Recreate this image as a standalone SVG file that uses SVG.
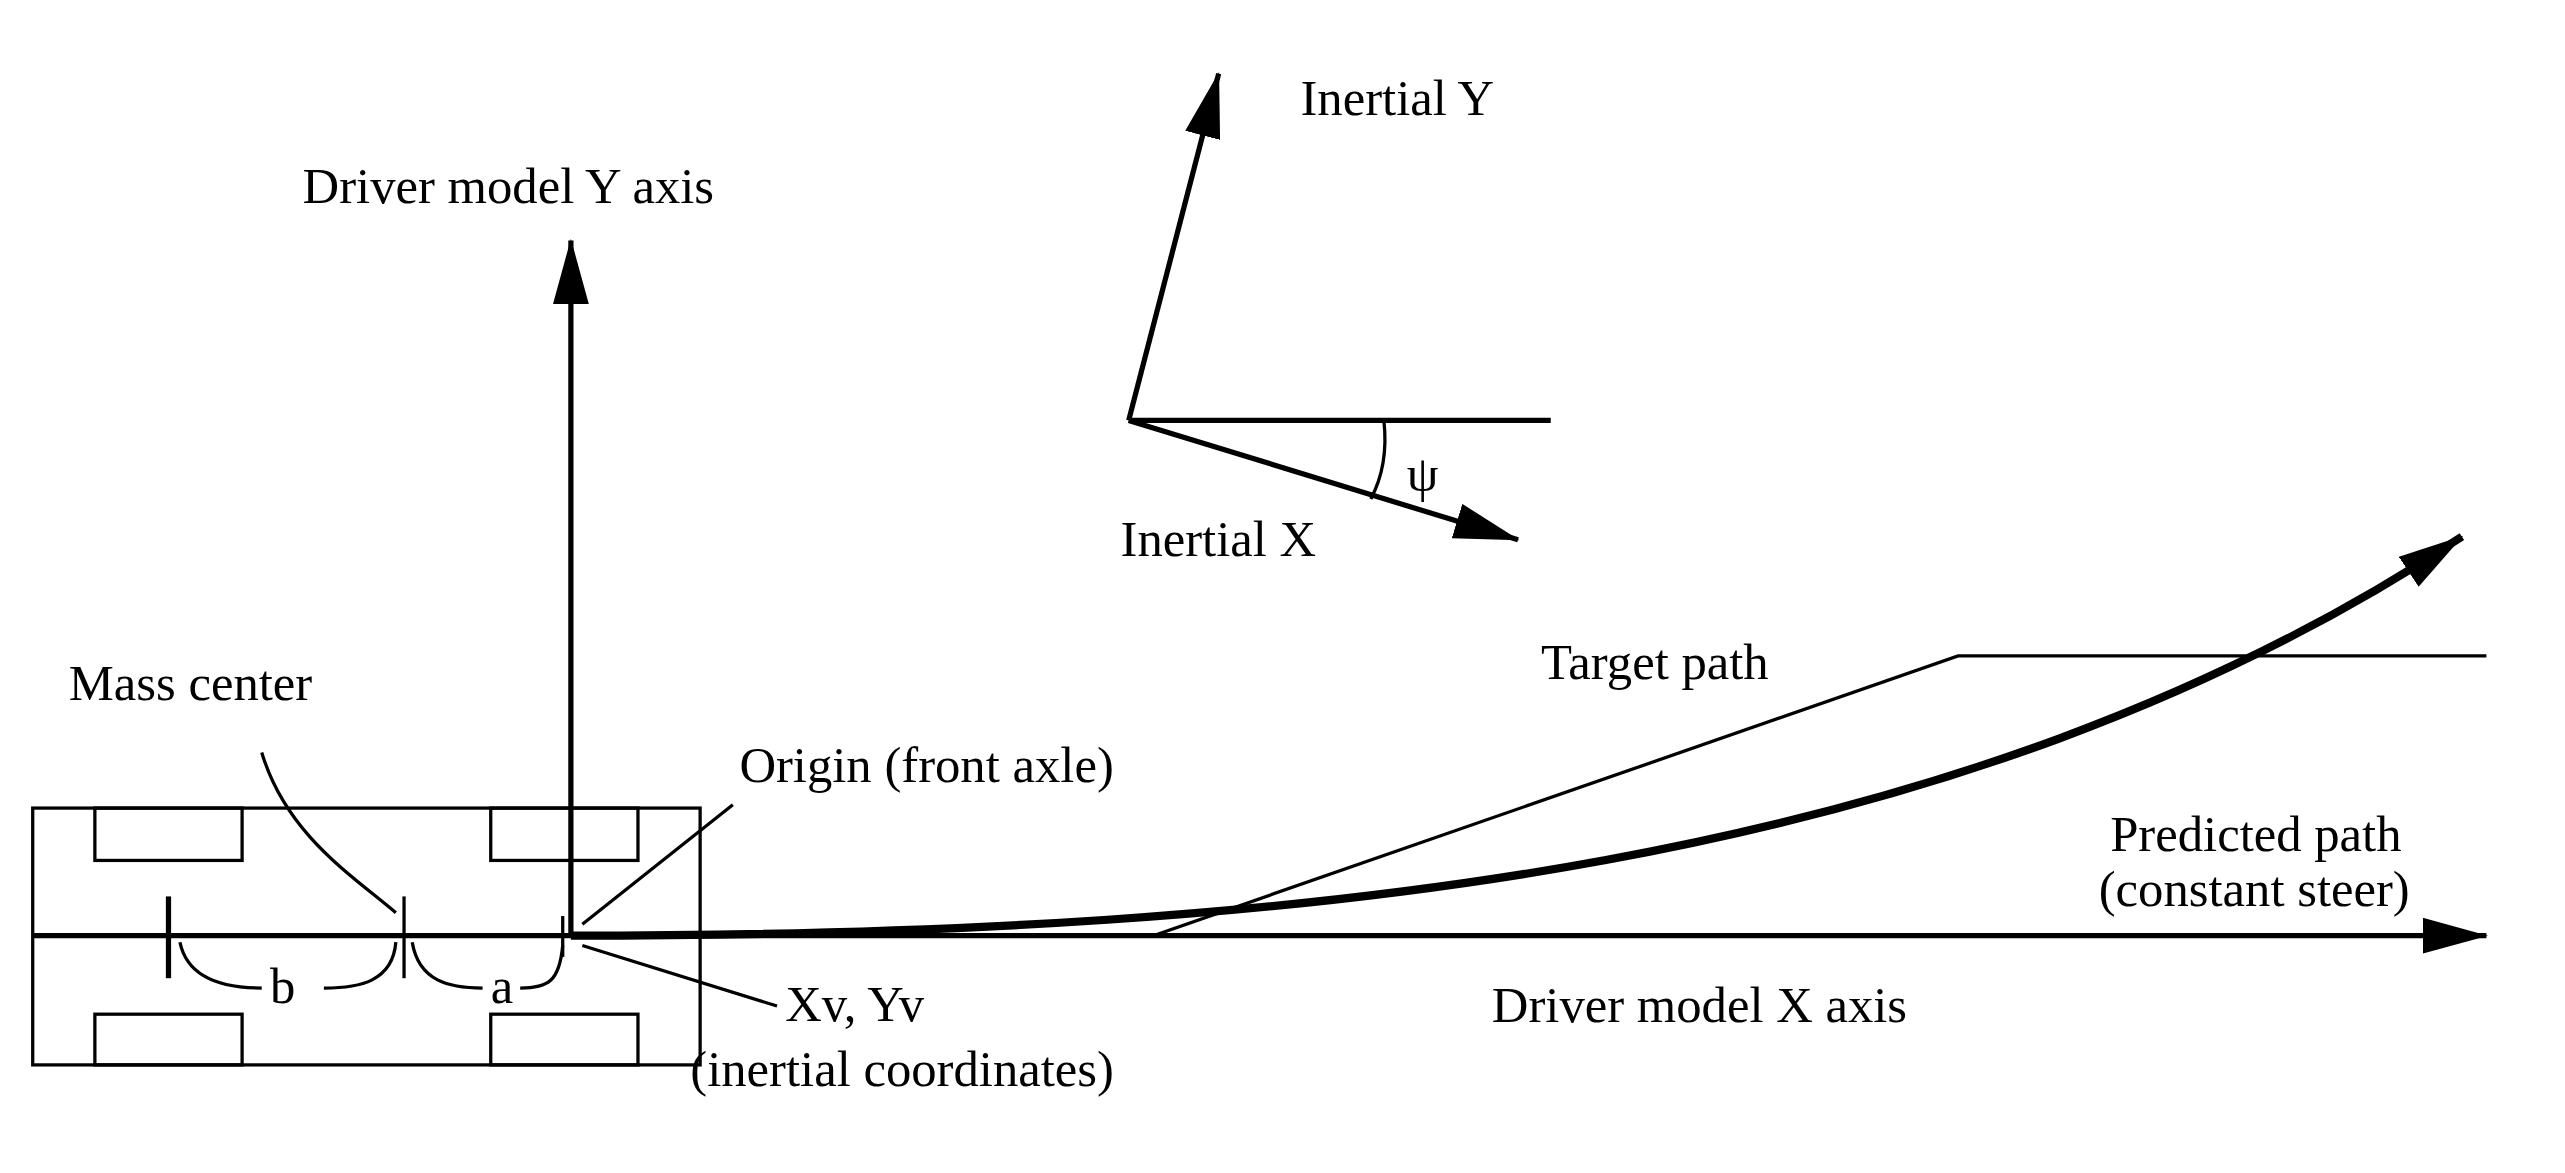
<svg xmlns="http://www.w3.org/2000/svg" width="2565" height="1173" viewBox="0 0 2565 1173">
<style>
text{font-family:"Liberation Serif","Times New Roman",serif;font-size:31px;fill:#000}
.t{fill:none;stroke:#000;stroke-width:2}
.k{fill:none;stroke:#000;stroke-width:3.2}
</style>
<defs>
<marker id="ah2" viewBox="0 0 40 22" refX="39" refY="11" markerWidth="40" markerHeight="22" orient="auto" markerUnits="userSpaceOnUse"><path d="M0,0L40,11L0,22z" fill="#000"/></marker>
</defs>
<rect width="2565" height="1173" fill="#fff"/>
<g transform="scale(1.6358)">
<g id="car">
<rect class="t" x="20" y="494" width="408" height="157"/>
<rect class="t" x="58" y="494" width="90" height="32"/>
<rect class="t" x="300" y="494" width="90" height="32"/>
<rect class="t" x="58" y="620" width="90" height="31"/>
<rect class="t" x="300" y="620" width="90" height="31"/>
<line class="k" x1="103" y1="548" x2="103" y2="598" stroke-width="4"/>
<line class="t" x1="247" y1="548" x2="247" y2="598"/>
<path class="t" d="M110,576 C115,600 140,604 160,604 M198,604 C220,604 240,600 242,576"/>
<path class="t" d="M252,576 C256,600 275,604 295,604 M318,604 C335,604 342,600 344,578"/>
<line class="t" x1="344" y1="560" x2="344" y2="585"/>
</g>
<g id="connectors">
<line class="k" x1="20" y1="572" x2="1520" y2="572" marker-end="url(#ah2)"/>
<line class="k" x1="349" y1="572" x2="349" y2="147" marker-end="url(#ah2)"/>
<path d="M349,572 C800,572 1200,530 1505,328" fill="none" stroke="#000" stroke-width="5" marker-end="url(#ah2)"/>
<polyline class="t" points="705,572 1197,401 1520,401"/>
<path class="t" d="M160,460 C175,510 215,535 242,558"/>
<line class="t" x1="356" y1="565" x2="448" y2="492"/>
<line class="t" x1="356" y1="578" x2="475" y2="615"/>
</g>
<g id="inertial">
<line class="k" x1="690" y1="257" x2="745" y2="45" marker-end="url(#ah2)"/>
<line class="k" x1="690" y1="257" x2="948" y2="257"/>
<line class="k" x1="690" y1="257" x2="928" y2="330" marker-end="url(#ah2)"/>
<path class="t" d="M846,257 C848,275 846,290 838,305"/>
</g>
<g id="labels">
<text x="795" y="70">Inertial Y</text>
<text x="185" y="124">Driver model Y axis</text>
<text x="685" y="340">Inertial X</text>
<text x="860" y="300">ψ</text>
<text x="942" y="415">Target path</text>
<text x="42" y="428">Mass center</text>
<text x="452" y="478">Origin (front axle)</text>
<text x="1290" y="520">Predicted path</text>
<text x="1283" y="554">(constant steer)</text>
<text x="912" y="625">Driver model X axis</text>
<text x="480" y="624">Xv, Yv</text>
<text x="422" y="664">(inertial coordinates)</text>
<text x="165" y="613">b</text>
<text x="300" y="613">a</text>
</g>
</g>
</svg>
